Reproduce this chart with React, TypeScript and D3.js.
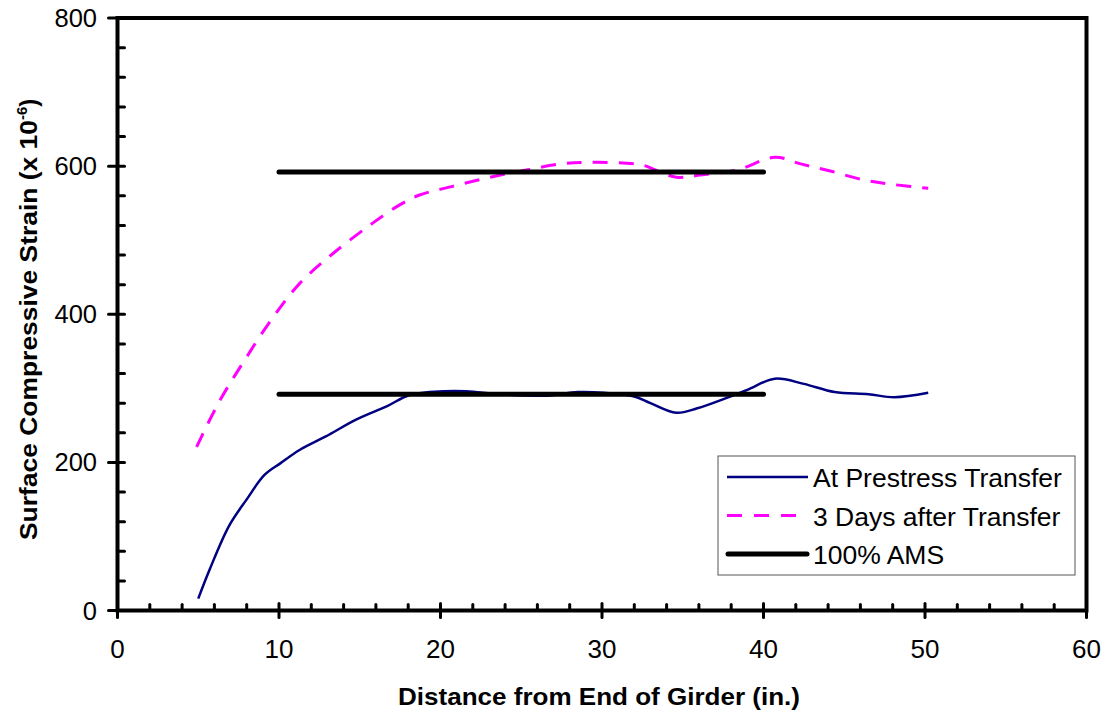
import React from "react";
import * as d3 from "d3";

const transferX = [5.0, 5.7, 6.9, 8.0, 9.1, 10.1, 11.3, 12.9, 14.8, 16.7, 18.1, 20.2, 21.6, 23.7, 26.6, 28.5, 30.1, 32.0, 33.0, 34.6, 35.9, 37.6, 39.0, 40.7, 42.5, 44.4, 46.5, 48.1, 50.2];
const transferY = [16, 55, 114, 150, 183, 199, 217, 235, 258, 276, 291, 296, 296, 292, 290, 295, 294, 289, 280, 267, 273, 286, 298, 313, 306, 295, 292, 288, 294];

const daysX = [4.9, 6.3, 7.9, 9.6, 11.3, 13.4, 15.8, 17.5, 18.7, 20.8, 23.5, 25.4, 27.4, 28.9, 32.4, 33.4, 34.6, 36.1, 38.4, 40.7, 42.3, 44.2, 46.3, 48.1, 50.2];
const daysY = [221, 282, 339, 395, 442, 483, 523, 548, 561, 573, 587, 595, 603, 605, 602, 594, 585, 588, 595, 612, 603, 593, 581, 575, 570];

const amsLevels = [592, 292];
const amsRange = [10, 40];

const xTicks = [0, 10, 20, 30, 40, 50, 60];
const yTicks = [0, 200, 400, 600, 800];

const legendLabels = ["At Prestress Transfer", "3 Days after Transfer", "100% AMS"];

export default function App() {
  const W = 1111, H = 712;
  const x = d3.scaleLinear().domain([0, 60]).range([117.5, 1086.5]);
  const y = d3.scaleLinear().domain([0, 800]).range([610.5, 18]);

  const line = d3
    .line<[number, number]>()
    .x((d) => x(d[0]))
    .y((d) => y(d[1]))
    .curve(d3.curveCatmullRom.alpha(0.5));

  const tPts = transferX.map((v, i) => [v, transferY[i]] as [number, number]);
  const dPts = daysX.map((v, i) => [v, daysY[i]] as [number, number]);

  const xMinor = d3.range(0, 61, 2).filter((v) => v % 10 !== 0);
  const yMinor = d3.range(0, 801, 40).filter((v) => v % 200 !== 0);

  const font = "Arial, 'Liberation Sans', sans-serif";

  return (
    <svg width={W} height={H} style={{ position: "absolute", left: 0, top: 0, background: "#fff" }}>
      {/* data */}
      <path d={line(dPts) || ""} fill="none" stroke="#FF00FF" strokeWidth={3} strokeDasharray="15 11" />
      <path d={line(tPts) || ""} fill="none" stroke="#000080" strokeWidth={2.5} />
      {amsLevels.map((lv, i) => (
        <line key={i} x1={x(amsRange[0])} x2={x(amsRange[1])} y1={y(lv)} y2={y(lv)} stroke="#000" strokeWidth={5} strokeLinecap="round" />
      ))}

      {/* frame */}
      <rect x={x(0)} y={y(800)} width={x(60) - x(0)} height={y(0) - y(800)} fill="none" stroke="#000" strokeWidth={4} />

      {/* x ticks */}
      {xMinor.map((v) => (
        <line key={"xm" + v} x1={x(v)} x2={x(v)} y1={y(0)} y2={y(0) - 6} stroke="#000" strokeWidth={3} strokeLinecap="round" />
      ))}
      {xTicks.map((v) => (
        <g key={"xt" + v}>
          <line x1={x(v)} x2={x(v)} y1={y(0) - 7} y2={y(0) + 7} stroke="#000" strokeWidth={3} strokeLinecap="round" />
          <text x={x(v)} y={658} textAnchor="middle" fontFamily={font} fontSize={26}>{v}</text>
        </g>
      ))}

      {/* y ticks */}
      {yMinor.map((v) => (
        <line key={"ym" + v} x1={x(0)} x2={x(0) + 7} y1={y(v)} y2={y(v)} stroke="#000" strokeWidth={3} strokeLinecap="round" />
      ))}
      {yTicks.map((v) => (
        <g key={"yt" + v}>
          <line x1={x(0) - 9} x2={x(0) + 7} y1={y(v)} y2={y(v)} stroke="#000" strokeWidth={3} strokeLinecap="round" />
          <text x={97} y={y(v) + 9} textAnchor="end" fontFamily={font} fontSize={25.5}>{v}</text>
        </g>
      ))}

      {/* axis titles */}
      <text x={398} y={705} fontFamily={font} fontSize={24} fontWeight="bold" textLength={402} lengthAdjust="spacingAndGlyphs">
        Distance from End of Girder (in.)
      </text>
      <text transform="translate(37,540) rotate(-90)" fontFamily={font} fontSize={24} fontWeight="bold">
        <tspan textLength={420} lengthAdjust="spacingAndGlyphs">Surface Compressive Strain (x 10</tspan>
        <tspan fontSize={15} dy={-10}>-6</tspan>
        <tspan dy={10}>)</tspan>
      </text>

      {/* legend */}
      <g>
        <rect x={718} y={456} width={357} height={119} fill="#fff" stroke="#555" strokeWidth={1} />
        {legendLabels.map((lab, i) => {
          const ly = 477 + i * 38.5;
          return (
            <g key={lab}>
              {i === 0 && <line x1={727} x2={808} y1={ly} y2={ly} stroke="#000080" strokeWidth={2.5} />}
              {i === 1 && <line x1={727} x2={808} y1={ly} y2={ly} stroke="#FF00FF" strokeWidth={3} strokeDasharray="15 12" />}
              {i === 2 && <line x1={728} x2={807} y1={ly} y2={ly} stroke="#000" strokeWidth={5} strokeLinecap="round" />}
              <text x={813} y={ly + 10} fontFamily={font} fontSize={26.5}>{lab}</text>
            </g>
          );
        })}
      </g>
    </svg>
  );
}
